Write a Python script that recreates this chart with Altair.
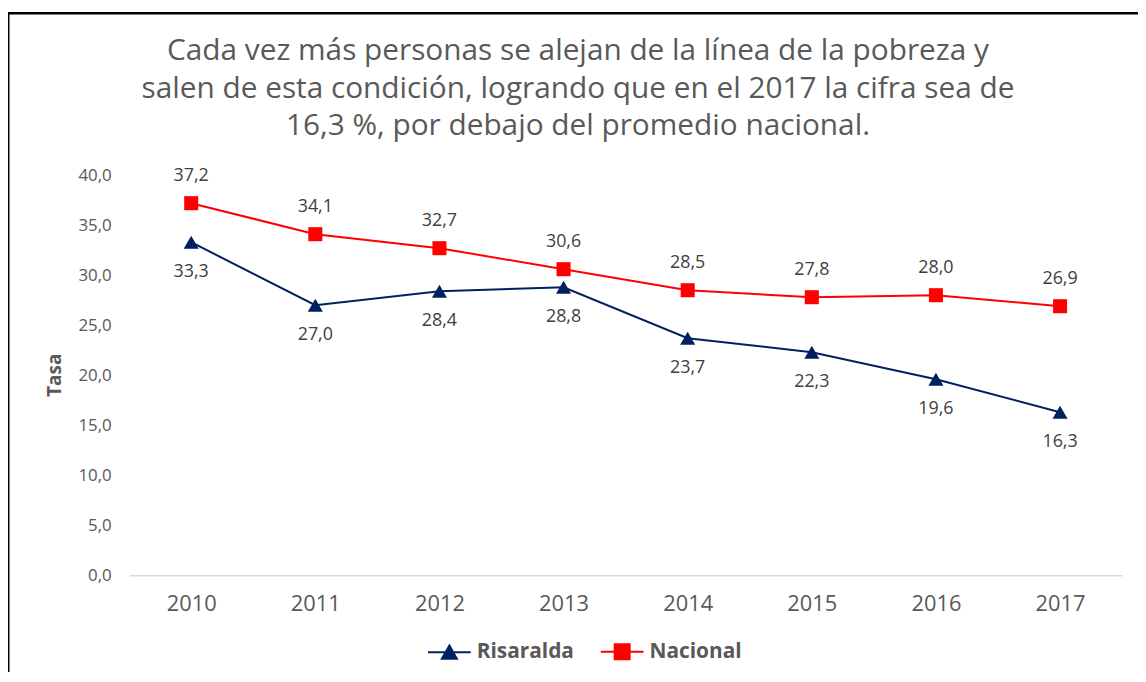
import altair as alt
import pandas as pd

anios = ["2010", "2011", "2012", "2013", "2014", "2015", "2016", "2017"]
risaralda = [33.3, 27.0, 28.4, 28.8, 23.7, 22.3, 19.6, 16.3]
nacional = [37.2, 34.1, 32.7, 30.6, 28.5, 27.8, 28.0, 26.9]
series = ["Risaralda", "Nacional"]
colores = ["#002060", "#FF0000"]
y_ticks = [0, 5, 10, 15, 20, 25, 30, 35, 40]
titulo = [
    "Cada vez más personas se alejan de la línea de la pobreza y",
    "salen de esta condición, logrando que en el 2017 la cifra sea de",
    "16,3 %, por debajo del promedio nacional.",
]

rows = []
for a, r, n in zip(anios, risaralda, nacional):
    rows.append({"anio": a, "serie": "Risaralda", "valor": r})
    rows.append({"anio": a, "serie": "Nacional", "valor": n})
df = pd.DataFrame(rows)
df["etiqueta"] = df["valor"].map(lambda v: f"{v:.1f}".replace(".", ","))

W, H = 1000, 403
FONT = "Open Sans"
GRAY = "#595959"

x_enc = alt.X(
    "anio:O",
    sort=anios,
    axis=alt.Axis(
        title=None, labelAngle=0, ticks=False, grid=False,
        domainColor="#d9d9d9", domainWidth=1.5,
        labelFontSize=22, labelColor=GRAY, labelFont=FONT, labelPadding=18,
    ),
)
y_enc = alt.Y(
    "valor:Q",
    scale=alt.Scale(domain=[0, 40], nice=False),
    axis=alt.Axis(
        values=y_ticks, grid=False, domain=False, ticks=False,
        labelExpr="replace(format(datum.value, '.1f'), '.', ',')",
        labelFontSize=17, labelColor=GRAY, labelFont=FONT, labelPadding=18,
        title="Tasa", titleFont=FONT, titleFontSize=19, titleFontWeight="bold",
        titleColor=GRAY, titleX=-75, titleY=201, titleAngle=270,
        titleAlign="center", titleBaseline="middle",
    ),
)

base = alt.Chart(df)
r_base = base.transform_filter(alt.datum.serie == "Risaralda")
n_base = base.transform_filter(alt.datum.serie == "Nacional")

line_r = r_base.mark_line(color=colores[0], strokeWidth=2).encode(x=x_enc, y=y_enc)
line_n = n_base.mark_line(color=colores[1], strokeWidth=2).encode(x=x_enc, y=y_enc)
pts_r = r_base.mark_point(shape="triangle-up", filled=True, size=230, color=colores[0], opacity=1).encode(x=x_enc, y=y_enc)
pts_n = n_base.mark_point(shape="square", filled=True, size=200, color=colores[1], opacity=1).encode(x=x_enc, y=y_enc)
txt_r = r_base.mark_text(dy=30, fontSize=18, font=FONT, color="#404040").encode(x=x_enc, y=y_enc, text="etiqueta:N")
txt_n = n_base.mark_text(dy=-27, fontSize=18, font=FONT, color="#404040").encode(x=x_enc, y=y_enc, text="etiqueta:N")

sym_r = "M-1,0L1,0M-0.35,0.3L0,-0.32L0.35,0.3Z"
sym_n = "M-1,0L1,0M-0.35,-0.35L0.35,-0.35L0.35,0.35L-0.35,0.35Z"
leg_spec = alt.Legend(
    title=None, orient="none", direction="horizontal", legendX=300, legendY=457,
    symbolSize=1849, symbolStrokeWidth=2, labelFont=FONT, labelFontSize=21,
    labelFontWeight="bold", labelColor=GRAY, labelOffset=5, columnPadding=23,
)
leg = base.transform_filter("datum.valor < 0").mark_point(opacity=1).encode(
    x=x_enc, y=y_enc,
    fill=alt.Fill("serie:N", scale=alt.Scale(domain=series, range=colores), legend=leg_spec),
    stroke=alt.Stroke("serie:N", scale=alt.Scale(domain=series, range=colores), legend=leg_spec),
    shape=alt.Shape("serie:N", scale=alt.Scale(domain=series, range=[sym_r, sym_n]), legend=leg_spec),
)

one = pd.DataFrame({"k": [0]})
frame_left = alt.Chart(one).mark_rule(color="black", strokeWidth=3).encode(
    x=alt.value(-122), y=alt.value(-163), y2=alt.value(H + 120))
frame_top = alt.Chart(one).mark_rule(color="black", strokeWidth=2.5).encode(
    x=alt.value(-122), x2=alt.value(W + 30), y=alt.value(-163))
title_txt = alt.Chart(one).mark_text(
    text=titulo, font=FONT, fontSize=30, color=GRAY, align="center",
    baseline="alphabetic", lineHeight=38,
).encode(x=alt.value(452), y=alt.value(-116))

chart = alt.layer(
    frame_left, frame_top, title_txt, line_r, line_n, pts_r, pts_n, txt_r, txt_n, leg
).properties(
    width=W, height=H,
    autosize=alt.AutoSizeParams(type="none"),
    padding={"left": 122, "top": 166, "right": 16, "bottom": 95},
).configure(font=FONT).configure_view(strokeWidth=0)

chart.save("out.html", embed_options={"renderer": "svg", "actions": False})
